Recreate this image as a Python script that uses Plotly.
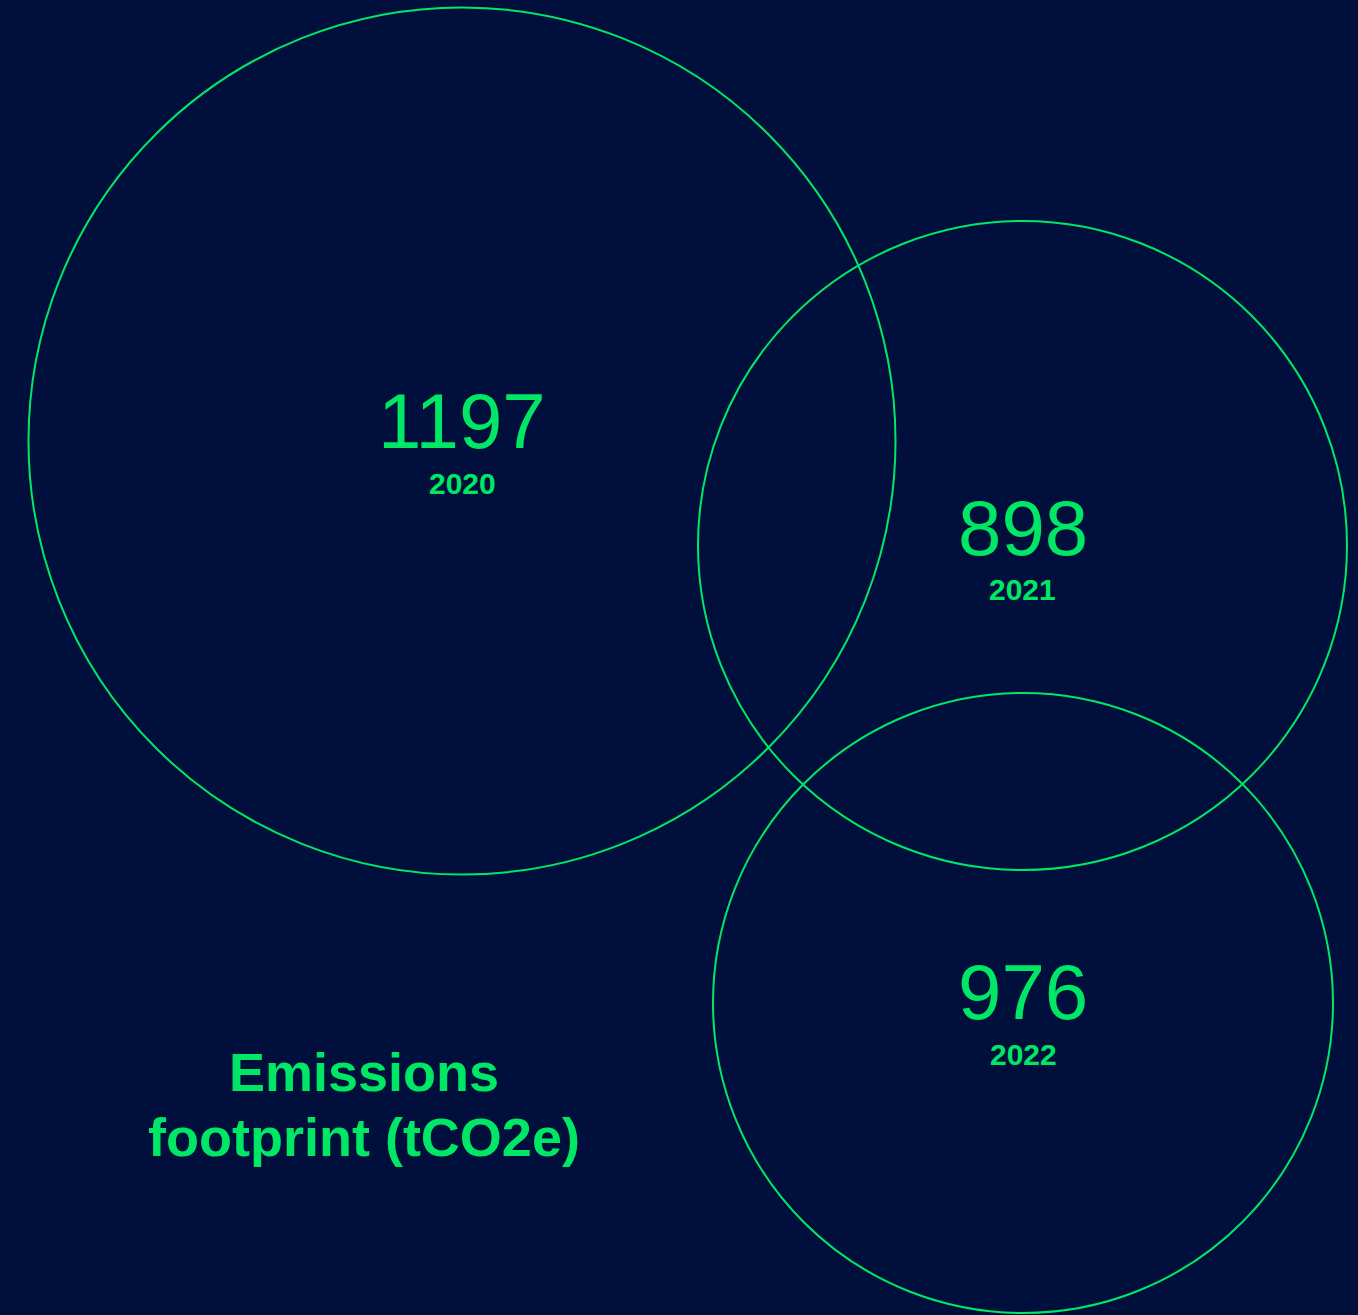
import plotly.graph_objects as go

# Emissions footprint by year
years = ["2020", "2021", "2022"]
emissions = [1197, 898, 976]

# Circle layout in pixel space: centre x, centre y, radius
circle_cx = [462, 1022.5, 1023]
circle_cy = [441, 545.5, 1003]
circle_r = [433.5, 324.5, 310]

title_lines = ["Emissions", "footprint (tCO2e)"]

W, H = 1358, 1315
BG = "#000F3B"
GREEN = "#00E765"

fig = go.Figure()

# invisible trace so the axes are active
fig.add_trace(go.Scatter(x=[0, W], y=[0, H], mode="markers",
                         marker=dict(opacity=0), hoverinfo="skip", showlegend=False))

for cx, cy, r in zip(circle_cx, circle_cy, circle_r):
    fig.add_shape(type="circle", xref="x", yref="y",
                  x0=cx - r, x1=cx + r, y0=cy - r, y1=cy + r,
                  line=dict(color=GREEN, width=2), fillcolor="rgba(0,0,0,0)")

for val, yr, cx, cy in zip(emissions, years, circle_cx, circle_cy):
    # offset of the labels inside each circle
    off = -20 if val == 1197 else -18 if val == 898 else -11
    fig.add_annotation(x=cx, y=cy + off, xref="x", yref="y", text=str(val),
                       showarrow=False, xanchor="center", yanchor="middle",
                       font=dict(family="Liberation Sans", size=78, color=GREEN))
    fig.add_annotation(x=cx, y=cy + off + 62, xref="x", yref="y", text=f"<b>{yr}</b>",
                       showarrow=False, xanchor="center", yanchor="middle",
                       font=dict(family="Liberation Sans", size=30, color=GREEN))

for i, line in enumerate(title_lines):
    fig.add_annotation(x=364, y=1072 + 65 * i, xref="x", yref="y", text=f"<b>{line}</b>",
                       showarrow=False, xanchor="center", yanchor="middle",
                       font=dict(family="Liberation Sans", size=54, color=GREEN))

fig.update_xaxes(range=[0, W], visible=False, fixedrange=True)
fig.update_yaxes(range=[H, 0], visible=False, fixedrange=True)
fig.update_layout(width=W, height=H, margin=dict(l=0, r=0, t=0, b=0),
                  paper_bgcolor=BG, plot_bgcolor=BG, showlegend=False)

fig.write_html("out.html", config={"displayModeBar": False})
